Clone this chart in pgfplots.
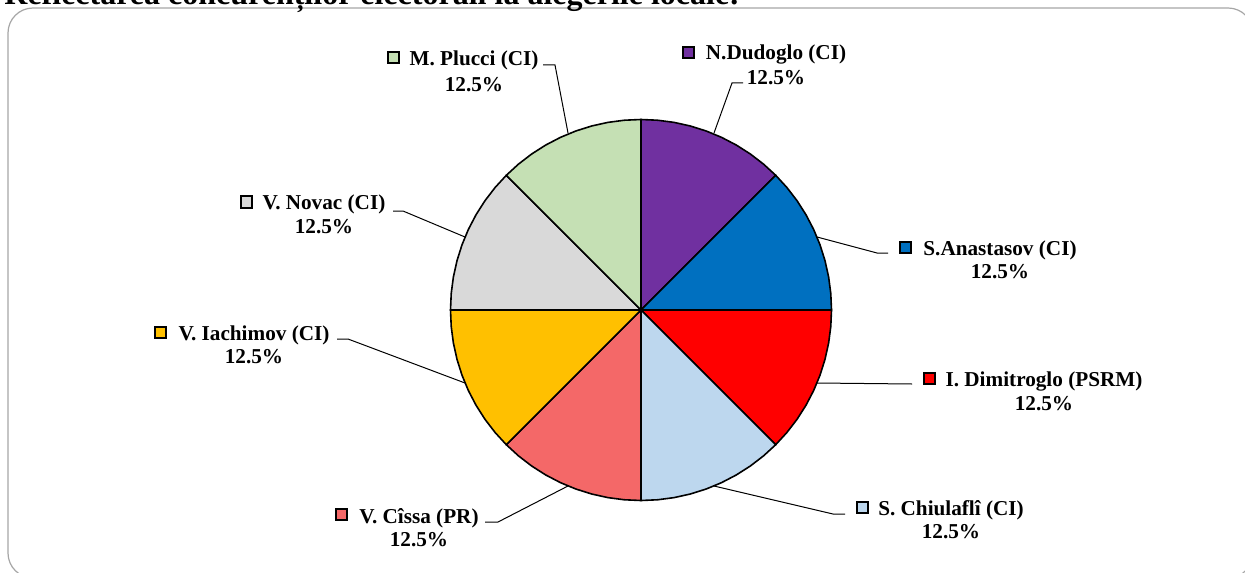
\documentclass[border=0pt]{standalone}
\usepackage{pgfplots}
\pgfplotsset{compat=1.18}
\usepackage{fontspec}
\setmainfont{Liberation Serif}
\definecolor{cPurple}{HTML}{7030A0}
\definecolor{cBlue}{HTML}{0070C0}
\definecolor{cRed}{HTML}{FF0000}
\definecolor{cLBlue}{HTML}{BDD7EE}
\definecolor{cSalmon}{HTML}{F46868}
\definecolor{cGold}{HTML}{FFC000}
\definecolor{cGray}{HTML}{D9D9D9}
\definecolor{cGreen}{HTML}{C5E0B4}
\definecolor{cBorder}{HTML}{A6A6A6}
\newcommand{\lf}{\fontsize{10.6}{12}\selectfont\bfseries}
\begin{document}
\begin{tikzpicture}
\begin{axis}[at={(225.25pt,-250.25pt)}, anchor=south west, hide axis, scale only axis,
  width=190.5pt, height=190.5pt, xmin=-1, xmax=1, ymin=-1, ymax=1, clip=false, data cs=polar]
% each slice = 12.5% = 45 degrees, clockwise from the top
\addplot[fill=cPurple, draw=black, line width=0.8pt, line join=round] coordinates {(0,0) (90,1) (85,1) (80,1) (75,1) (70,1) (65,1) (60,1) (55,1) (50,1) (45,1) (0,0)};
\addplot[fill=cBlue, draw=black, line width=0.8pt, line join=round] coordinates {(0,0) (45,1) (40,1) (35,1) (30,1) (25,1) (20,1) (15,1) (10,1) (5,1) (0,1) (0,0)};
\addplot[fill=cRed, draw=black, line width=0.8pt, line join=round] coordinates {(0,0) (0,1) (-5,1) (-10,1) (-15,1) (-20,1) (-25,1) (-30,1) (-35,1) (-40,1) (-45,1) (0,0)};
\addplot[fill=cLBlue, draw=black, line width=0.8pt, line join=round] coordinates {(0,0) (-45,1) (-50,1) (-55,1) (-60,1) (-65,1) (-70,1) (-75,1) (-80,1) (-85,1) (-90,1) (0,0)};
\addplot[fill=cSalmon, draw=black, line width=0.8pt, line join=round] coordinates {(0,0) (-90,1) (-95,1) (-100,1) (-105,1) (-110,1) (-115,1) (-120,1) (-125,1) (-130,1) (-135,1) (0,0)};
\addplot[fill=cGold, draw=black, line width=0.8pt, line join=round] coordinates {(0,0) (-135,1) (-140,1) (-145,1) (-150,1) (-155,1) (-160,1) (-165,1) (-170,1) (-175,1) (-180,1) (0,0)};
\addplot[fill=cGray, draw=black, line width=0.8pt, line join=round] coordinates {(0,0) (180,1) (175,1) (170,1) (165,1) (160,1) (155,1) (150,1) (145,1) (140,1) (135,1) (0,0)};
\addplot[fill=cGreen, draw=black, line width=0.8pt, line join=round] coordinates {(0,0) (135,1) (130,1) (125,1) (120,1) (115,1) (110,1) (105,1) (100,1) (95,1) (90,1) (0,0)};
\end{axis}
\begin{scope}[x=0.5pt,y=-0.5pt]
\draw[color=cBorder, line width=0.6pt, rounded corners=12.5pt] (8,8) rectangle (1253,578);
\node[anchor=base west, font=\fontsize{16}{19}\selectfont\bfseries, inner sep=0] at (4,5) {Reflectarea concurenților electorali la alegerile locale:};
% M. Plucci
\node[anchor=base, font=\lf, inner sep=0] at (474,66) {M. Plucci (CI)};
\node[anchor=base, font=\lf, inner sep=0] at (474,92) {12.5\%};
\draw[fill=cGreen, line width=1pt] (388,52.5) rectangle (399,63.5);
\draw[line width=0.5pt] (543,65) -- (555,65) -- (568,133);
% N.Dudoglo
\node[anchor=base, font=\lf, inner sep=0] at (776,60) {N.Dudoglo (CI)};
\node[anchor=base, font=\lf, inner sep=0] at (776,85) {12.5\%};
\draw[fill=cPurple, line width=1pt] (682.5,47.5) rectangle (693.5,58.5);
\draw[line width=0.5pt] (743,83) -- (732,83) -- (714,133);
% S.Anastasov
\node[anchor=base, font=\lf, inner sep=0] at (1000,255) {S.Anastasov (CI)};
\node[anchor=base, font=\lf, inner sep=0] at (1000,278) {12.5\%};
\draw[fill=cBlue, line width=1pt] (899.5,241.5) rectangle (910.5,252.5);
\draw[line width=0.5pt] (888,253) -- (877,253) -- (817,237);
% I. Dimitroglo
\node[anchor=base, font=\lf, inner sep=0] at (1044,386) {I. Dimitroglo (PSRM)};
\node[anchor=base, font=\lf, inner sep=0] at (1044,410) {12.5\%};
\draw[fill=cRed, line width=1pt] (923.5,372.5) rectangle (934.5,383.5);
\draw[line width=0.5pt] (912,384) -- (817,383);
% S. Chiulafli
\node[anchor=base, font=\lf, inner sep=0] at (951,515) {S. Chiulaflî (CI)};
\node[anchor=base, font=\lf, inner sep=0] at (951,538) {12.5\%};
\draw[fill=cLBlue, line width=1pt] (857,502) rectangle (868,513);
\draw[line width=0.5pt] (845,514) -- (833,514) -- (714,486);
% V. Cissa
\node[anchor=base, font=\lf, inner sep=0] at (419,523) {V. Cîssa (PR)};
\node[anchor=base, font=\lf, inner sep=0] at (419,546) {12.5\%};
\draw[fill=cSalmon, line width=1pt] (335.5,509) rectangle (346.5,520);
\draw[line width=0.5pt] (485,522) -- (498,522) -- (568,486);
% V. Iachimov
\node[anchor=base, font=\lf, inner sep=0] at (254,340) {V. Iachimov (CI)};
\node[anchor=base, font=\lf, inner sep=0] at (254,363) {12.5\%};
\draw[fill=cGold, line width=1pt] (155,327) rectangle (166,338);
\draw[line width=0.5pt] (337,339) -- (348,339) -- (465,383);
% V. Novac
\node[anchor=base, font=\lf, inner sep=0] at (324,209) {V. Novac (CI)};
\node[anchor=base, font=\lf, inner sep=0] at (324,233) {12.5\%};
\draw[fill=cGray, line width=1pt] (240.5,196.5) rectangle (251.5,207.5);
\draw[line width=0.5pt] (393,211) -- (403,211) -- (465,237);
\end{scope}
\pgfresetboundingbox
\path[use as bounding box] (0pt,0pt) rectangle (622.5pt,-286pt);
\end{tikzpicture}
\end{document}
